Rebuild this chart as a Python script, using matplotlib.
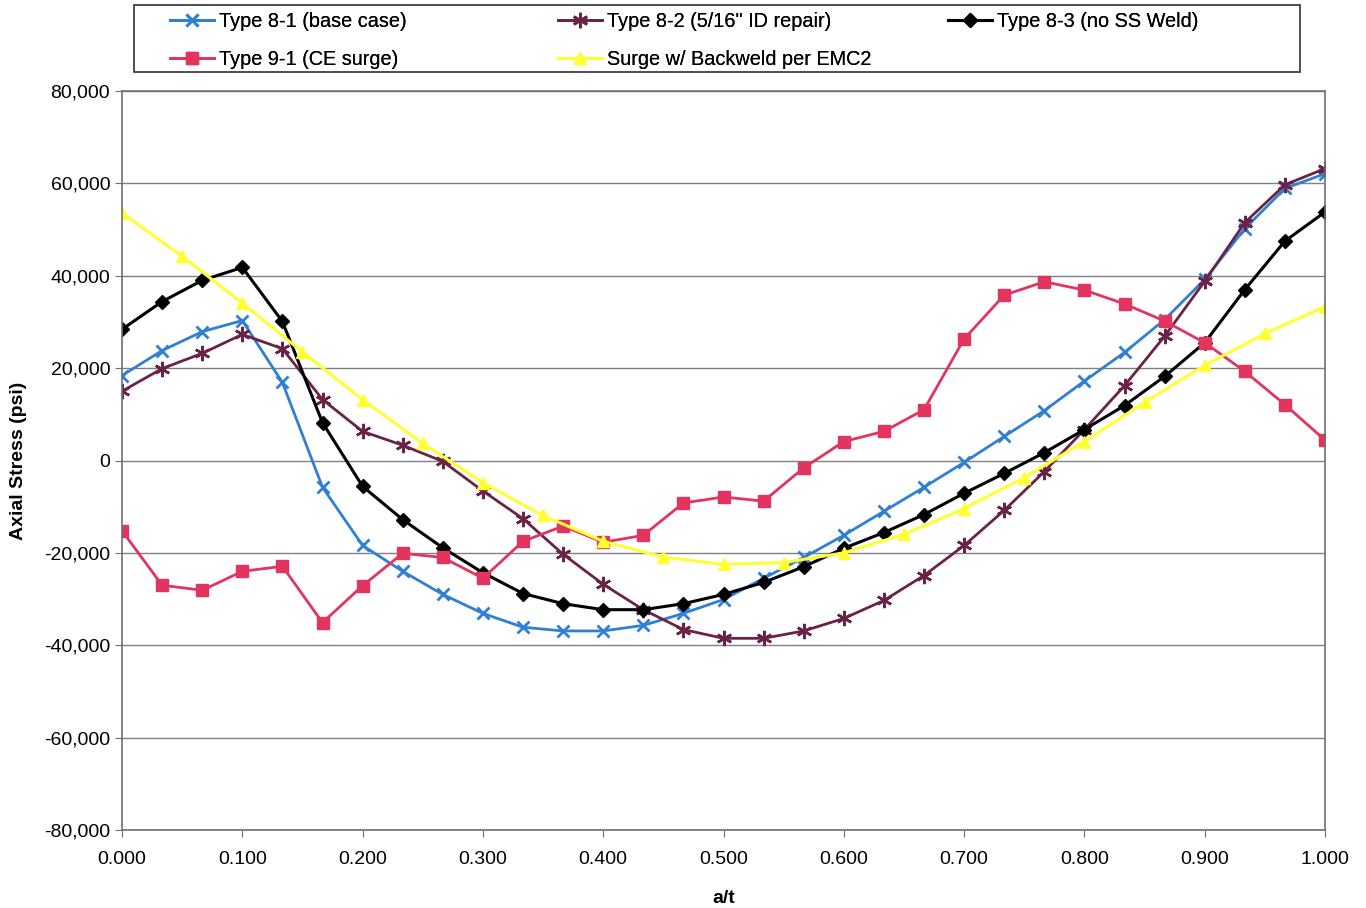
import matplotlib
matplotlib.use("Agg")
import matplotlib.pyplot as plt
from matplotlib.ticker import FuncFormatter, MultipleLocator
from matplotlib.patches import Rectangle

plt.rcParams['font.family'] = ['Liberation Sans', 'DejaVu Sans']

# x positions (a/t)
x30 = [i / 30 for i in range(31)]
x20 = [i / 20 for i in range(21)]

type81 = [18.4, 23.8, 27.9, 30.3, 16.9, -5.8, -18.4, -24.0, -29.0, -33.1, -36.1,
          -36.9, -36.9, -35.7, -33.1, -30.1, -25.5, -21.0, -16.2, -11.0, -5.8,
          -0.4, 5.2, 10.8, 17.2, 23.4, 30.5, 39.2, 50.2, 58.9, 62.1]
type82 = [15.0, 19.9, 23.2, 27.3, 24.2, 13.2, 6.3, 3.3, -0.2, -6.6, -12.6,
          -20.3, -26.8, -32.3, -36.6, -38.5, -38.5, -36.9, -34.2, -30.3, -24.9,
          -18.4, -10.8, -2.4, 6.7, 16.2, 26.9, 38.8, 51.5, 59.7, 63.2]
type83 = [28.4, 34.4, 39.0, 41.8, 30.1, 8.2, -5.6, -12.8, -18.9, -24.3, -28.8,
          -31.0, -32.3, -32.3, -31.0, -29.0, -26.4, -23.0, -19.0, -15.6, -11.7,
          -7.1, -2.8, 1.7, 6.7, 11.9, 18.2, 25.5, 37.0, 47.5, 53.8]
type91 = [-15.2, -27.0, -28.1, -24.0, -22.9, -35.1, -27.1, -20.1, -21.0, -25.5, -17.5,
          -14.2, -17.7, -16.2, -9.2, -7.9, -8.8, -1.6, 4.1, 6.3, 11.0,
          26.3, 35.8, 38.7, 36.9, 33.9, 30.2, 25.5, 19.3, 12.1, 4.4]
backweld = [53.6, 44.2, 34.1, 23.5, 13.2, 3.7, -4.8, -11.9, -17.5, -20.9, -22.5,
            -22.1, -20.0, -16.0, -10.4, -3.7, 4.1, 12.6, 20.6, 27.5, 33.3]

labels = ['Type 8-1 (base case)', 'Type 8-2 (5/16" ID repair)', 'Type 8-3 (no SS Weld)',
          'Type 9-1 (CE surge)', 'Surge w/ Backweld per EMC2']

W, H = 1366, 908
fig = plt.figure(figsize=(W / 100, H / 100), dpi=100)
ax = fig.add_axes([122 / W, 1 - 830 / H, 1203 / W, 739 / H])

k = 1000
l1, = ax.plot(x30, [v * k for v in type81], color='#2F7FD3', lw=2, marker='x',
              ms=9, mew=2, label=labels[0])
l2, = ax.plot(x30, [v * k for v in type82], color='#6A2346', lw=2, marker=(6, 2, 0),
              ms=11, mew=1.8, label=labels[1])
l3, = ax.plot(x30, [v * k for v in type83], color='#000000', lw=2.2, marker='D',
              ms=7, label=labels[2])
l4, = ax.plot(x30, [v * k for v in type91], color='#E2345F', lw=2, marker='s',
              ms=9, label=labels[3])
l5, = ax.plot(x20, [v * k for v in backweld], color='#FFFF33', lw=2.2, marker='^',
              ms=9, label=labels[4])

ax.set_xlim(0, 1.0)
ax.set_ylim(-80000, 80000)
ax.xaxis.set_major_locator(MultipleLocator(0.1))
ax.yaxis.set_major_locator(MultipleLocator(20000))
ax.xaxis.set_major_formatter(FuncFormatter(lambda v, p: f"{v:.3f}"))
ax.yaxis.set_major_formatter(FuncFormatter(lambda v, p: f"{v:,.0f}"))
ax.yaxis.grid(True, color='#808080', lw=1)
ax.set_axisbelow(True)
for s in ax.spines.values():
    s.set_color('#707070')
    s.set_linewidth(1.2)
ax.tick_params(axis='both', labelsize=14, color='#707070', direction='out', length=5)
ax.tick_params(axis='x', pad=10)
ax.set_xlabel('a/t', fontsize=14, fontweight='bold', labelpad=16)
ax.set_ylabel('Axial Stress (psi)', fontsize=14, fontweight='bold', labelpad=12)

# legend: frame + three columns (row-major order as in the reference)
fig.add_artist(Rectangle((134 / W, 1 - 72 / H), 1166 / W, 67 / H, transform=fig.transFigure,
                         fill=False, edgecolor='#404040', lw=1.3))
columns = [([l1, l4], [labels[0], labels[3]], 170),
           ([l2, l5], [labels[1], labels[4]], 558),
           ([l3], [labels[2]], 948)]
for hs, ls, xpx in columns:
    lg = fig.legend(handles=hs, labels=ls, loc='upper left',
                    bbox_to_anchor=(xpx / W, 1 - 12 / H), frameon=False,
                    fontsize=14.3, handlelength=2.2, handletextpad=0.28,
                    borderpad=0, borderaxespad=0, labelspacing=0.95)
    fig.add_artist(lg)

fig.savefig('out.png', dpi=100)
